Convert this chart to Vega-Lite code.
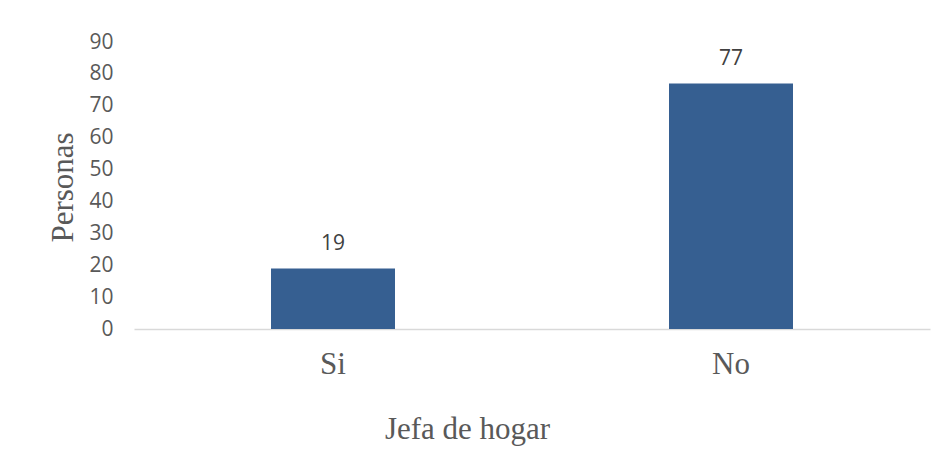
{
  "$schema": "https://vega.github.io/schema/vega-lite/v6.json",
  "autosize": {"type": "none"},
  "width": 796,
  "height": 287,
  "padding": {"left": 134, "top": 42, "right": 15, "bottom": 120},
  "background": "white",
  "data": {"values": [
    {"jefa": "Si", "personas": 19},
    {"jefa": "No", "personas": 77}
  ]},
  "encoding": {
    "x": {
      "field": "jefa", "type": "nominal", "sort": ["Si", "No"],
      "scale": {"paddingInner": 0, "paddingOuter": 0},
      "axis": {
        "title": "Jefa de hogar",
        "labelAngle": 0,
        "labelFont": "Liberation Serif", "labelFontSize": 31, "labelColor": "#595959",
        "labelBaseline": "alphabetic", "labelPadding": 44,
        "ticks": false, "tickSize": 0,
        "domainColor": "#d9d9d9", "domainWidth": 1.5,
        "titleFont": "Liberation Serif", "titleFontSize": 31, "titleFontWeight": "normal", "titleColor": "#595959",
        "titleX": 333, "titleY": 109, "titleAlign": "center", "titleBaseline": "alphabetic"
      }
    },
    "y": {
      "field": "personas", "type": "quantitative",
      "scale": {"domain": [0, 90], "nice": false},
      "axis": {
        "title": "Personas",
        "values": [0, 10, 20, 30, 40, 50, 60, 70, 80, 90],
        "grid": false, "domain": false, "ticks": false, "tickSize": 0,
        "labelFont": "Open Sans", "labelFontSize": 21, "labelColor": "#595959",
        "labelPadding": 21,
        "titleFont": "Liberation Serif", "titleFontSize": 31, "titleFontWeight": "normal", "titleColor": "#595959",
        "titleX": -62, "titleY": 145, "titleAlign": "center", "titleBaseline": "alphabetic", "titleAngle": -90
      }
    }
  },
  "layer": [
    {"mark": {"type": "bar", "size": 124, "color": "#365F91"}},
    {"mark": {"type": "text", "baseline": "middle", "dy": -24, "font": "Open Sans", "fontSize": 21, "color": "#404040"},
     "encoding": {"text": {"field": "personas", "type": "quantitative"}}}
  ],
  "config": {"view": {"stroke": null}}
}
